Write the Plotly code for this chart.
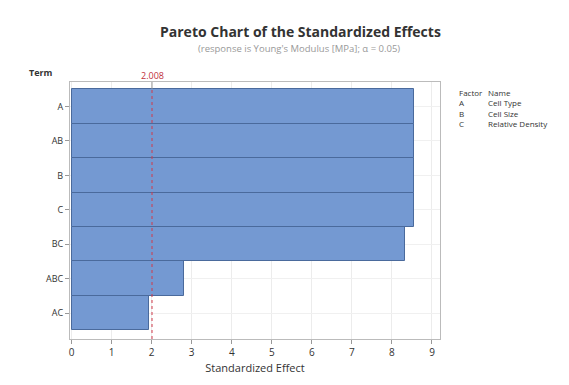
import plotly.graph_objects as go

# Pareto of standardized effects (largest at top)
terms = ["A", "AB", "B", "C", "BC", "ABC", "AC"]
effects = [8.55, 8.55, 8.54, 8.56, 8.33, 2.80, 1.94]
critical = 2.008
x_ticks = list(range(0, 10))
factors = ["A", "B", "C"]
factor_names = ["Cell Type", "Cell Size", "Relative Density"]

font_family = "Open Sans, DejaVu Sans, sans-serif"

W, H = 569, 385
ML, MR, MT, MB = 70, 129, 82, 40
PW, PH = W - ML - MR, H - MT - MB


def px(x):
    """pixel x -> paper x"""
    return (x - ML) / PW


def py(y):
    """pixel y -> paper y"""
    return (H - MB - y) / PH


# bottom-to-top order for the category axis
terms_plot = terms[::-1]
effects_plot = effects[::-1]
ypos = list(range(len(terms_plot)))

fig = go.Figure()
fig.add_trace(go.Bar(
    x=effects_plot, y=ypos, orientation="h", width=1.0,
    marker=dict(color="#7499d2", line=dict(color="#4a6a9c", width=1)),
    hoverinfo="x+text", text=terms_plot, textposition="none",
))

# critical value reference line
fig.add_shape(type="line", xref="x", yref="paper", x0=critical, x1=critical,
              y0=0, y1=py(89), line=dict(color="#d03a4a", width=1, dash="dot"))
fig.add_shape(type="line", xref="x", yref="paper", x0=critical, x1=critical,
              y0=py(89), y1=1, line=dict(color="#999999", width=1))
fig.add_annotation(x=critical, y=py(75), xref="x", yref="paper", text="2.008",
                   showarrow=False, yanchor="middle",
                   font=dict(family=font_family, size=9, color="#c0303c"))

layout_annots = [
    dict(x=px(300), y=py(30), text="<b>Pareto Chart of the Standardized Effects</b>",
         font=dict(family=font_family, size=14, color="#333333")),
    dict(x=px(299), y=py(48), text="(response is Young's Modulus [MPa]; \u03b1 = 0.05)",
         font=dict(family=font_family, size=9.5, color="#999999")),
    dict(x=px(41), y=py(72), text="<b>Term</b>",
         font=dict(family=font_family, size=9, color="#333333")),
]
for a in layout_annots:
    fig.add_annotation(xref="paper", yref="paper", showarrow=False,
                       xanchor="center", yanchor="middle", **a)

# factor key, one text block per column
factor_col = "<br>".join(["Factor"] + factors)
name_col = "<br>".join(["Name"] + factor_names)
for xpos, txt in ((457, factor_col), (486, name_col)):
    fig.add_annotation(x=px(xpos), y=py(85), xref="paper", yref="paper", text=txt,
                       showarrow=False, xanchor="left", yanchor="top", align="left",
                       font=dict(family=font_family, size=8, color="#333333"))

fig.update_layout(
    width=W, height=H,
    margin=dict(l=ML, r=MR, t=MT, b=MB),
    paper_bgcolor="white", plot_bgcolor="white",
    showlegend=False, bargap=0,
    font=dict(family=font_family, size=9, color="#333333"),
    xaxis=dict(range=[-0.04, 9.2], tickvals=x_ticks, ticks="outside", ticklen=4,
               tickcolor="#999999", showgrid=True, gridcolor="#ececec",
               zeroline=False, showline=True, linecolor="#bbbbbb", mirror=True,
               title=dict(text="Standardized Effect", font=dict(size=11), standoff=6),
               tickfont=dict(size=10)),
    yaxis=dict(range=[-0.75, 6.71], tickvals=ypos, ticktext=terms_plot,
               ticks="outside", ticklen=4, tickcolor="#999999",
               showgrid=True, gridcolor="#f0f0f0", zeroline=False,
               showline=True, linecolor="#bbbbbb", mirror=True,
               tickfont=dict(size=9)),
)

fig.write_html("out.html")
